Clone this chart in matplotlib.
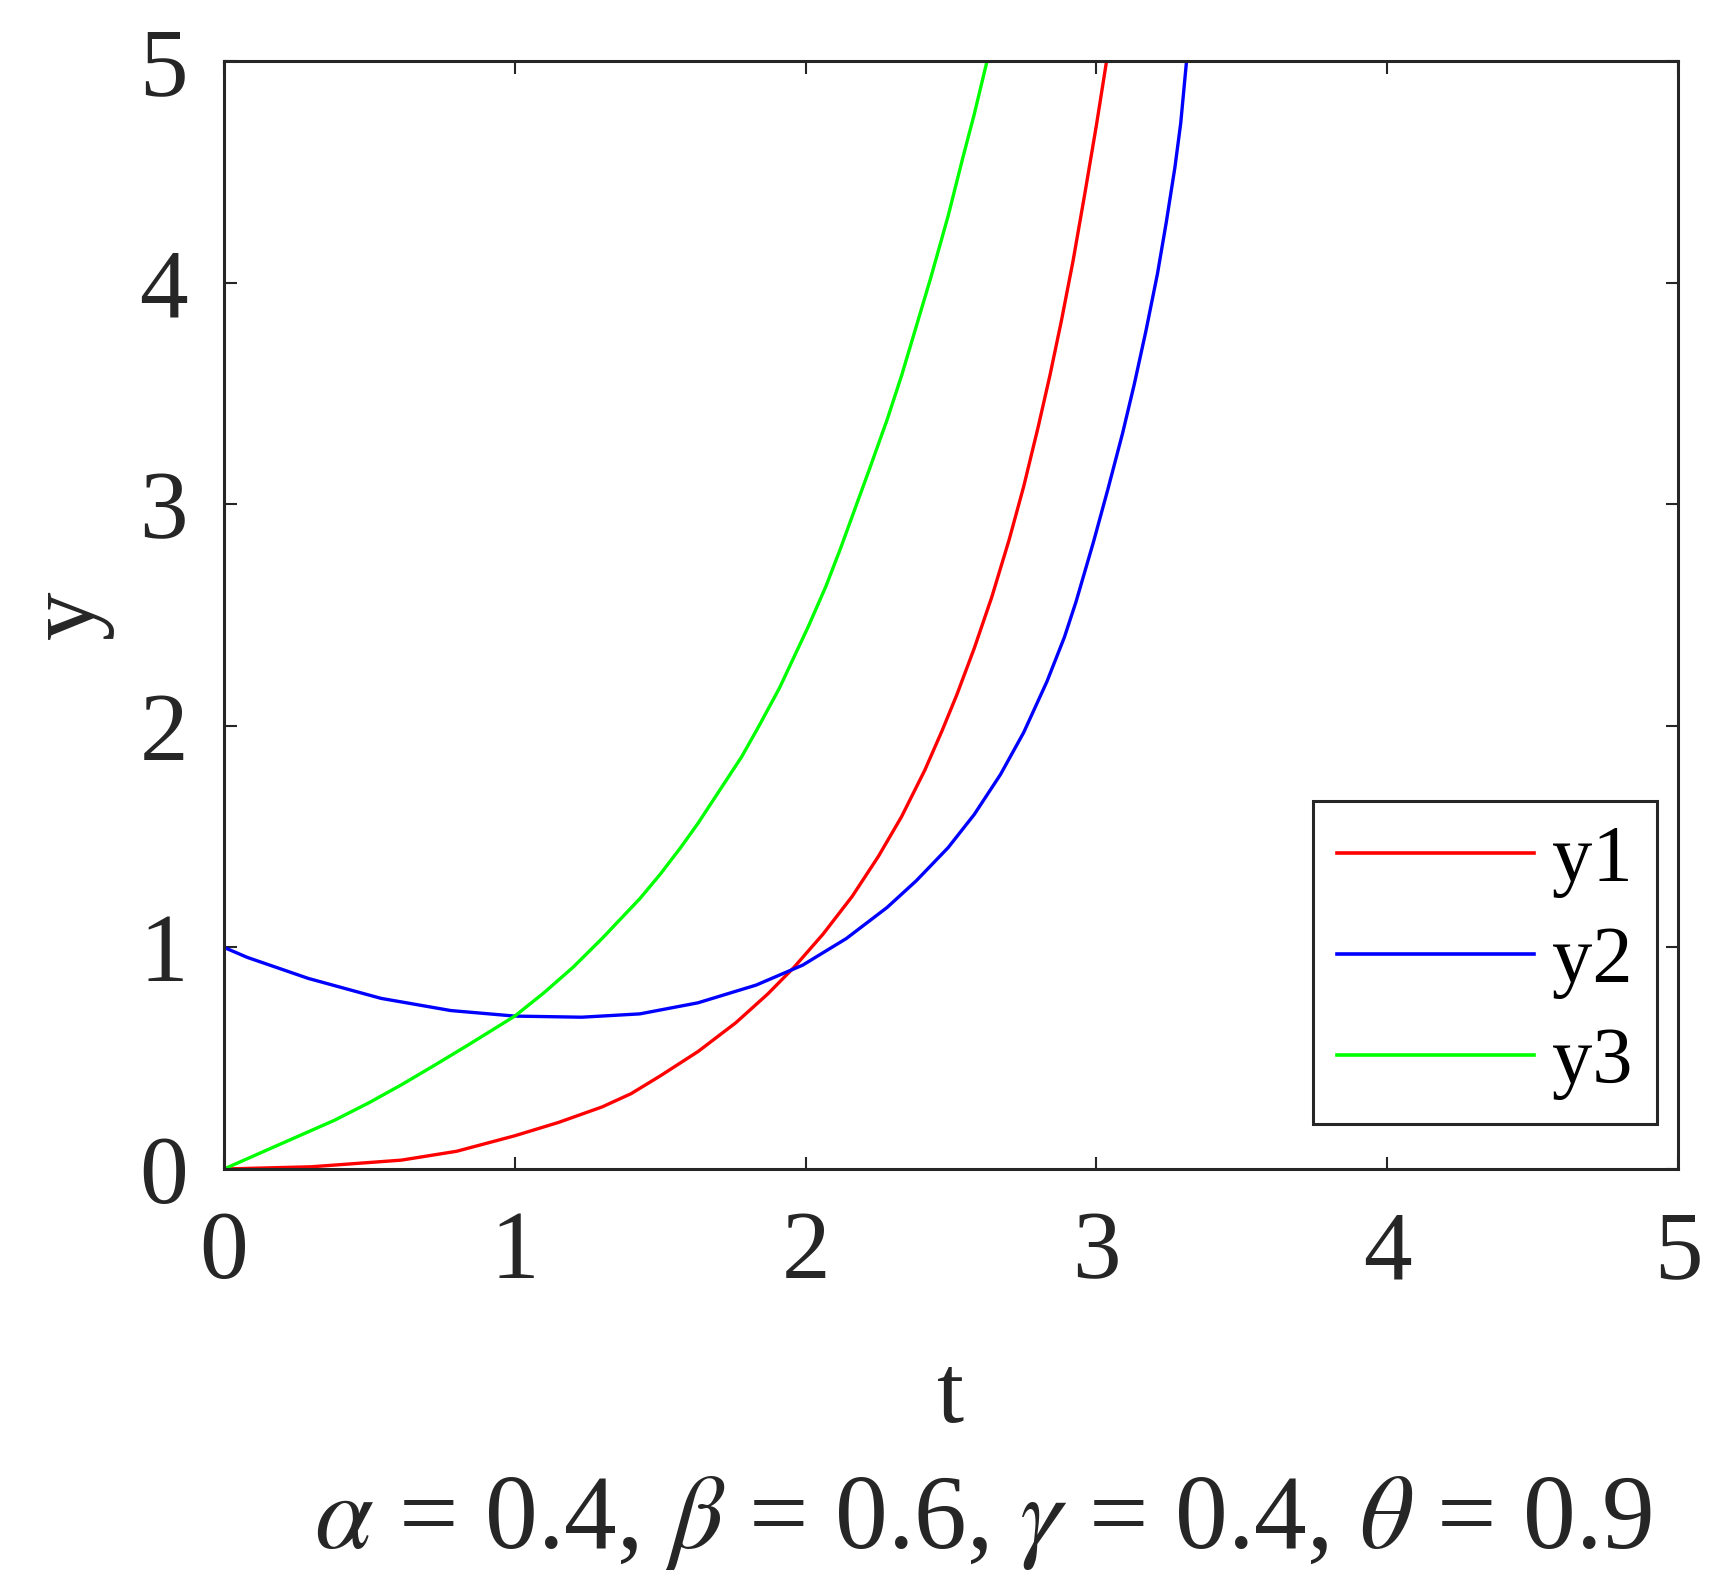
import numpy as np
import matplotlib.pyplot as plt

plt.rcParams['font.family'] = ['Liberation Serif', 'DejaVu Serif']
plt.rcParams['mathtext.fontset'] = 'stix'

# values
t_y1 = [0, 0.3, 0.61, 0.8, 1.0, 1.15, 1.3, 1.4, 1.5, 1.63, 1.76, 1.87, 1.96, 2.06, 2.16, 2.25,
        2.33, 2.41, 2.47, 2.52, 2.58, 2.64, 2.70, 2.75, 2.80, 2.84, 2.88, 2.92, 2.96, 3.0, 3.035]
y1 = [0, 0.01, 0.04, 0.08, 0.15, 0.21, 0.28, 0.34, 0.42, 0.53, 0.66, 0.79, 0.91, 1.06, 1.23, 1.41,
      1.59, 1.80, 1.98, 2.14, 2.35, 2.58, 2.84, 3.08, 3.35, 3.58, 3.83, 4.10, 4.40, 4.71, 5.0]

t_y2 = [0, 0.08, 0.29, 0.54, 0.78, 1.0, 1.23, 1.43, 1.63, 1.83, 1.99, 2.14, 2.28, 2.38, 2.49,
        2.58, 2.67, 2.75, 2.83, 2.89, 2.93, 2.99, 3.04, 3.09, 3.13, 3.17, 3.21, 3.24, 3.27,
        3.29, 3.31]
y2 = [1.0, 0.955, 0.86, 0.77, 0.715, 0.69, 0.685, 0.70, 0.75, 0.83, 0.92, 1.04, 1.18, 1.30, 1.45,
      1.60, 1.78, 1.97, 2.20, 2.40, 2.56, 2.83, 3.07, 3.32, 3.54, 3.78, 4.04, 4.27, 4.52,
      4.72, 5.0]

t_y3 = [0, 0.15, 0.38, 0.5, 0.61, 0.72, 0.84, 0.92, 1.0, 1.1, 1.2, 1.3, 1.43, 1.5, 1.57, 1.63,
        1.70, 1.78, 1.84, 1.91, 1.96, 2.01, 2.07, 2.12, 2.17, 2.22, 2.28, 2.33, 2.38, 2.43,
        2.49, 2.54, 2.58, 2.624]
y3 = [0, 0.087, 0.22, 0.30, 0.38, 0.465, 0.56, 0.625, 0.69, 0.795, 0.91, 1.04, 1.22, 1.33, 1.45,
      1.56, 1.70, 1.86, 2.00, 2.17, 2.31, 2.45, 2.63, 2.80, 2.98, 3.16, 3.38, 3.58, 3.80, 4.02,
      4.30, 4.56, 4.76, 5.0]

ticks = [0, 1, 2, 3, 4, 5]
params = r'$\alpha$ = 0.4, $\beta$ = 0.6, $\gamma$ = 0.4, $\theta$ = 0.9'

dark = '#262626'

fig = plt.figure(figsize=(17.21, 15.84), dpi=100)
ax = fig.add_axes([224 / 1721, 1 - 1169 / 1584, (1678 - 224) / 1721, (1169 - 61) / 1584])

ax.plot(t_y1, y1, color=(1, 0, 0), lw=2.4, label='y1')
ax.plot(t_y2, y2, color=(0, 0, 1), lw=2.4, label='y2')
ax.plot(t_y3, y3, color=(0, 1, 0), lw=2.4, label='y3')

ax.set_xlim(0, 5)
ax.set_ylim(0, 5)
ax.set_xticks(ticks)
ax.set_yticks(ticks)
ax.tick_params(direction='in', length=9, width=1.5, colors=dark, labelsize=70,
               top=True, right=True)
ax.tick_params(axis='x', pad=30)
ax.tick_params(axis='y', pad=26)
for s in ax.spines.values():
    s.set_linewidth(2.2)
    s.set_color(dark)

ax.set_xlabel('t', fontsize=70, color=dark, labelpad=40)
ax.set_ylabel('y', fontsize=70, color=dark, labelpad=18)

leg = ax.legend(loc='lower right', bbox_to_anchor=(0.9856, 0.0406), borderaxespad=0,
                fontsize=58, handlelength=2.45, handletextpad=0.22, labelspacing=0.34,
                borderpad=0.3, fancybox=False, framealpha=1)
leg.get_frame().set_edgecolor(dark)
leg.get_frame().set_linewidth(2.2)
for h in leg.get_lines():
    h.set_linewidth(2.6)

fig.text(0.571, 1 - 1548 / 1584, params, fontsize=76, color=dark,
         ha='center', va='baseline')

fig.savefig('out.png', dpi=100)
